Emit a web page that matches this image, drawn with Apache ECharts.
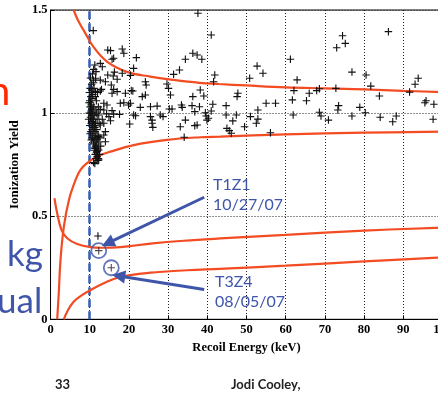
<!DOCTYPE html>
<html>
<head>
<meta charset="utf-8">
<script src="https://cdn.jsdelivr.net/npm/echarts@6/dist/echarts.min.js"></script>
<style>
html,body{margin:0;padding:0;background:#fff;overflow:hidden;width:438px;height:412px;}
#c{width:460px;height:412px;}
</style>
</head>
<body>
<div id="c"></div>
<script>
// ---- data ----
var xTicks = [0,10,20,30,40,50,60,70,80,90,100];
var yTicks = [0,0.5,1,1.5];

// electron-recoil band edges
var erUpper = [[5.9,1.5],[7,1.45],[8.5,1.40],[11,1.32],[14.4,1.25],[19.5,1.20],[25.5,1.177],[31.4,1.161],[38,1.147],[43,1.141],[50,1.134],[60,1.125],[70,1.12],[80,1.115],[90,1.108],[100,1.102]];
var erLower = [[1.7,0],[2.1,0.126],[2.55,0.288],[3.4,0.449],[4.7,0.579],[6.4,0.676],[7.6,0.724],[9.3,0.757],[11.9,0.789],[15.3,0.813],[21.2,0.845],[29.7,0.87],[38.2,0.883],[43.3,0.886],[60,0.897],[80,0.905],[100,0.91]];
// nuclear-recoil band edges
var nrUpper = [[1.0,0.587],[1.7,0.514],[2.8,0.433],[4.25,0.393],[6.8,0.365],[10.2,0.350],[13,0.347],[17.8,0.350],[25.5,0.367],[34,0.381],[43.3,0.392],[60,0.409],[80,0.430],[100,0.445]];
var nrLower = [[3.4,0],[4.25,0.037],[5.9,0.085],[8.1,0.118],[10.2,0.142],[13.6,0.175],[17.8,0.205],[25.5,0.226],[34.8,0.238],[43,0.245],[60,0.26],[80,0.281],[100,0.30]];

var thresholdKeV = 10;

// recoil events (energy keV, ionization yield)
var eventsSpread = [
[37.6,1.484],[41.0,1.379],[36.3,1.290],[37.4,1.282],[34.4,1.261],[38.6,1.261],[32.9,1.209],[31.4,1.188],[41.9,1.185],[41.6,1.152],
[29.7,1.141],[30.1,1.120],[38.2,1.112],[30.6,1.088],[36.3,1.080],[39.1,1.083],[47.8,1.096],[47.6,1.080],[52.7,1.228],[54.2,1.193],
[50.8,1.169],[55.0,1.048],[57.4,1.048],[33.4,1.039],[33.6,1.028],[36.1,1.036],[38.0,1.031],[41.4,1.043],[44.8,1.036],[30.3,1.020],
[31.0,1.020],[36.8,1.007],[39.5,1.002],[41.0,1.010],[39.7,0.986],[44.8,0.991],[47.4,0.991],[51.0,0.983],[52.9,1.015],[52.9,0.971],
[28.7,0.983],[34.4,0.966],[39.9,0.966],[40.3,0.975],[46.5,0.962],[52.5,0.951],[33.1,0.934],[36.8,0.939],[37.4,0.942],[45.0,0.926],
[49.5,0.934],[46.1,0.902],[45.6,0.915],[56.1,0.905],[34.1,0.883],
[86.2,1.395],[74.5,1.375],[75.2,1.338],[73.0,1.317],[61.2,1.261],[76.9,1.199],[80.5,1.185],[62.9,1.161],[93.8,1.169],[93.0,1.140],
[81.7,1.131],[62.1,1.109],[72.8,1.120],[68.6,1.118],[67.9,1.109],[66.0,1.096],[83.9,1.083],[91.6,1.102],[61.7,1.064],[65.3,1.060],
[95.8,1.060],[95.5,1.050],[97.8,1.043],[73.5,1.036],[73.3,1.015],[78.9,1.028],[80.3,1.002],[68.6,1.004],[69.0,0.986],[61.9,0.991],
[76.9,0.986],[84.1,0.980],[88.2,0.986],[70.9,0.966],[87.3,0.958],[97.6,0.970]
];
var eventsNear = [
[10.9,1.400],[14.6,1.306],[15.3,1.303],[18.3,1.311],[18.7,1.290],[15.7,1.261],[16.1,1.266],[21.9,1.269],[21.2,1.217],[20.4,1.183],
[13.2,1.225],[11.0,1.212],[11.6,1.201],[16.3,1.199],[18.3,1.193],[14.6,1.185],[16.0,1.180],[11.5,1.169],[12.7,1.160],[14.0,1.152],
[17.0,1.164],[11.0,1.147],[24.2,1.152],[24.4,1.136],[15.5,1.136],[13.0,1.115],[10.6,1.112],[16.1,1.115],[17.0,1.104],[20.6,1.109],
[11.5,1.104],[12.7,1.107],[15.7,1.096],[19.1,1.096],[21.0,1.107],[23.4,1.080],[24.2,1.088],[13.6,1.048],[14.4,1.039],[17.8,1.048],
[18.7,1.050],[19.9,1.039],[20.4,1.048],[25.5,1.031],[27.2,1.034],[22.9,1.028],[12.7,1.018],[13.6,1.015],[15.7,1.012],[16.1,0.995],
[12.3,0.991],[14.3,0.996],[14.9,0.983],[17.6,0.994],[21.2,0.991],[21.7,0.987],[25.5,0.983],[25.9,0.966],[28.0,0.991],[13.2,0.970],
[15.3,0.963],[20.2,0.947],[25.9,0.951],[26.1,0.931],[12.7,0.942],[13.6,0.951],[14.0,0.910],[13.6,0.894],[12.3,0.886],[11.9,0.873],
[14.0,0.861],[12.3,0.821],[11.9,0.813],[11.5,0.829],[12.3,0.773],[11.9,0.781],[12.7,1.241],[11.3,1.233]
];
var eventsThreshold = [
[10.0,1.06],[10.2,1.05],[10.4,1.04],[10.1,1.03],[10.6,1.02],[10.3,1.01],[10.8,1.00],[10.5,0.99],[10.2,0.98],[11.0,0.97],
[10.7,0.96],[10.4,0.95],[11.2,0.94],[10.9,0.93],[10.6,0.92],[11.4,0.91],[11.1,0.90],[10.8,0.89],[11.6,0.88],[11.3,0.87],
[11.0,0.86],[11.8,0.85],[11.5,0.84],[11.2,0.83],[12.0,0.82],[11.7,0.81],[11.4,0.80],[11.9,0.79],[11.6,0.78],[12.1,0.77],
[11.3,0.755],[10.3,1.08],[10.6,1.07],[9.9,1.10],[10.8,1.09],[10.1,1.12],[10.5,1.14],[10.9,1.16],[10.2,1.17],[10.7,1.19],
[9.8,1.05],[9.9,1.00],[9.7,0.97],[10.0,0.94],[10.3,0.91],[10.6,0.88],[10.9,0.85],[11.2,0.82],[10.8,0.97],[11.3,0.99],
[11.6,1.01],[11.0,1.03],[11.5,0.95],[11.8,0.92],[12.1,0.89],[12.3,0.86],[11.9,0.97],[12.2,1.03],[11.7,1.06],[10.4,0.87],
[10.1,0.90],[10.5,1.10],[11.1,1.12],[11.4,1.08],[12.0,1.10],[12.4,0.95],[12.6,0.88],[12.8,0.84],[12.5,0.80],[11.0,0.76],
[10.3,1.00],[10.7,0.94],[11.3,0.93],[11.9,0.83],[12.2,0.78],[10.5,1.02],[11.8,1.00],[12.1,0.404]
];
// WIMP candidate events (circled)
var candidates = [[12.3,0.333],[15.5,0.25]];
var candidateLabels = [['T1Z1','10/27/07'],['T3Z4','08/05/07']];
// arrows: from label to candidate (data coords)
var arrows = [[[39.2,0.592],[14.6,0.369]],[[39.2,0.145],[17.4,0.21]]];

// ---- chart ----
var RED = '#f34b22';
var BLUE = '#3e55aa';
var serif = '"Liberation Serif","DejaVu Serif",serif';
var sans = 'Lato,"Open Sans",sans-serif';
var plus = 'path://M4.25,0H5.75V4.25H10V5.75H5.75V10H4.25V5.75H0V4.25H4.25Z';

var chart = echarts.init(document.getElementById('c'), null, {renderer:'canvas'});

function curve(d){
  return {type:'line', data:d, smooth:0.4, symbol:'none', silent:true, z:3,
    lineStyle:{color:RED, width:2.2}, clip:true};
}

var option = {
  animation:false,
  backgroundColor:'#fff',
  grid:{left:50, top:10, width:392.5, height:309.3, show:true, borderColor:'#000', borderWidth:1, backgroundColor:'#fff'},
  xAxis:{type:'value', min:0, max:100, interval:10,
    name:'Recoil Energy (keV)', nameLocation:'middle', nameGap:21,
    nameTextStyle:{fontFamily:serif, fontWeight:'bold', fontSize:12.5, color:'#000'},
    axisLine:{show:true, onZero:false, lineStyle:{color:'#000', width:1}},
    axisTick:{show:true, inside:true, length:4, lineStyle:{color:'#000'}},
    axisLabel:{fontFamily:serif, fontWeight:'bold', fontSize:12.5, color:'#000', margin:4,
      customValues: xTicks},
    splitLine:{show:true, lineStyle:{color:'#222', type:[1,2], width:1}}
  },
  yAxis:{type:'value', min:0, max:1.5, interval:0.5,
    name:'Ionization Yield', nameLocation:'middle', nameGap:27, nameRotate:90,
    nameTextStyle:{fontFamily:serif, fontWeight:'bold', fontSize:13, color:'#000'},
    axisLine:{show:true, onZero:false, lineStyle:{color:'#000', width:1}},
    axisTick:{show:true, inside:true, length:4, lineStyle:{color:'#000'}},
    axisLabel:{fontFamily:serif, fontWeight:'bold', fontSize:12.5, color:'#000', margin:3},
    splitLine:{show:true, lineStyle:{color:'#222', type:[1,2], width:1}}
  },
  series:[
    {type:'scatter', data:eventsSpread.concat(eventsNear).concat(eventsThreshold), symbol:plus, symbolSize:7.5,
      itemStyle:{color:'#111', opacity:1}, z:4, silent:true,
      markLine:{silent:true, symbol:['none','none'], label:{show:false},
        lineStyle:{color:'#3a62b4', type:[8,4], width:2.6}, z:2,
        data:[{xAxis:thresholdKeV}]}},
    {type:'scatter', data:candidates, symbol:plus, symbolSize:7.5, itemStyle:{color:'#222'}, z:5, silent:true},
    {type:'scatter', data:candidates, symbol:'circle', symbolSize:15,
      itemStyle:{color:'rgba(0,0,0,0)', borderColor:BLUE, borderWidth:1.8}, z:6, silent:true},
    curve(erUpper), curve(erLower), curve(nrUpper), curve(nrLower),
    {type:'lines', coordinateSystem:'cartesian2d', silent:true, z:7,
      symbol:['none','triangle'], symbolSize:[11,13],
      lineStyle:{color:BLUE, width:3, opacity:1},
      data: arrows.map(function(a){return {coords:a};})}
  ],
  graphic:[
    {type:'text', left:213, top:175, z:100, style:{text:candidateLabels[0][0]+'\n'+candidateLabels[0][1], font:'16px '+sans, fill:BLUE, lineHeight:20}},
    {type:'text', left:215, top:272, z:100, style:{text:candidateLabels[1][0]+'\n'+candidateLabels[1][1], font:'16px '+sans, fill:BLUE, lineHeight:20}},
    {type:'text', x:-12, y:72, z:100, style:{text:'n', font:'40px '+sans, fill:'#ff2a00'}},
    {type:'text', x:7, y:237, z:100, style:{text:'kg', font:'35px '+sans, fill:BLUE}},
    {type:'text', x:-3, y:284, z:100, style:{text:'ual', font:'35px '+sans, fill:BLUE}},
    {type:'text', x:55, y:378, z:100, style:{text:'33', font:'bold 13px '+sans, fill:'#222'}},
    {type:'text', x:231, y:378, z:100, style:{text:'Jodi Cooley,', font:'bold 13px '+sans, fill:'#222'}}
  ]
};
chart.setOption(option);
</script>
</body>
</html>
